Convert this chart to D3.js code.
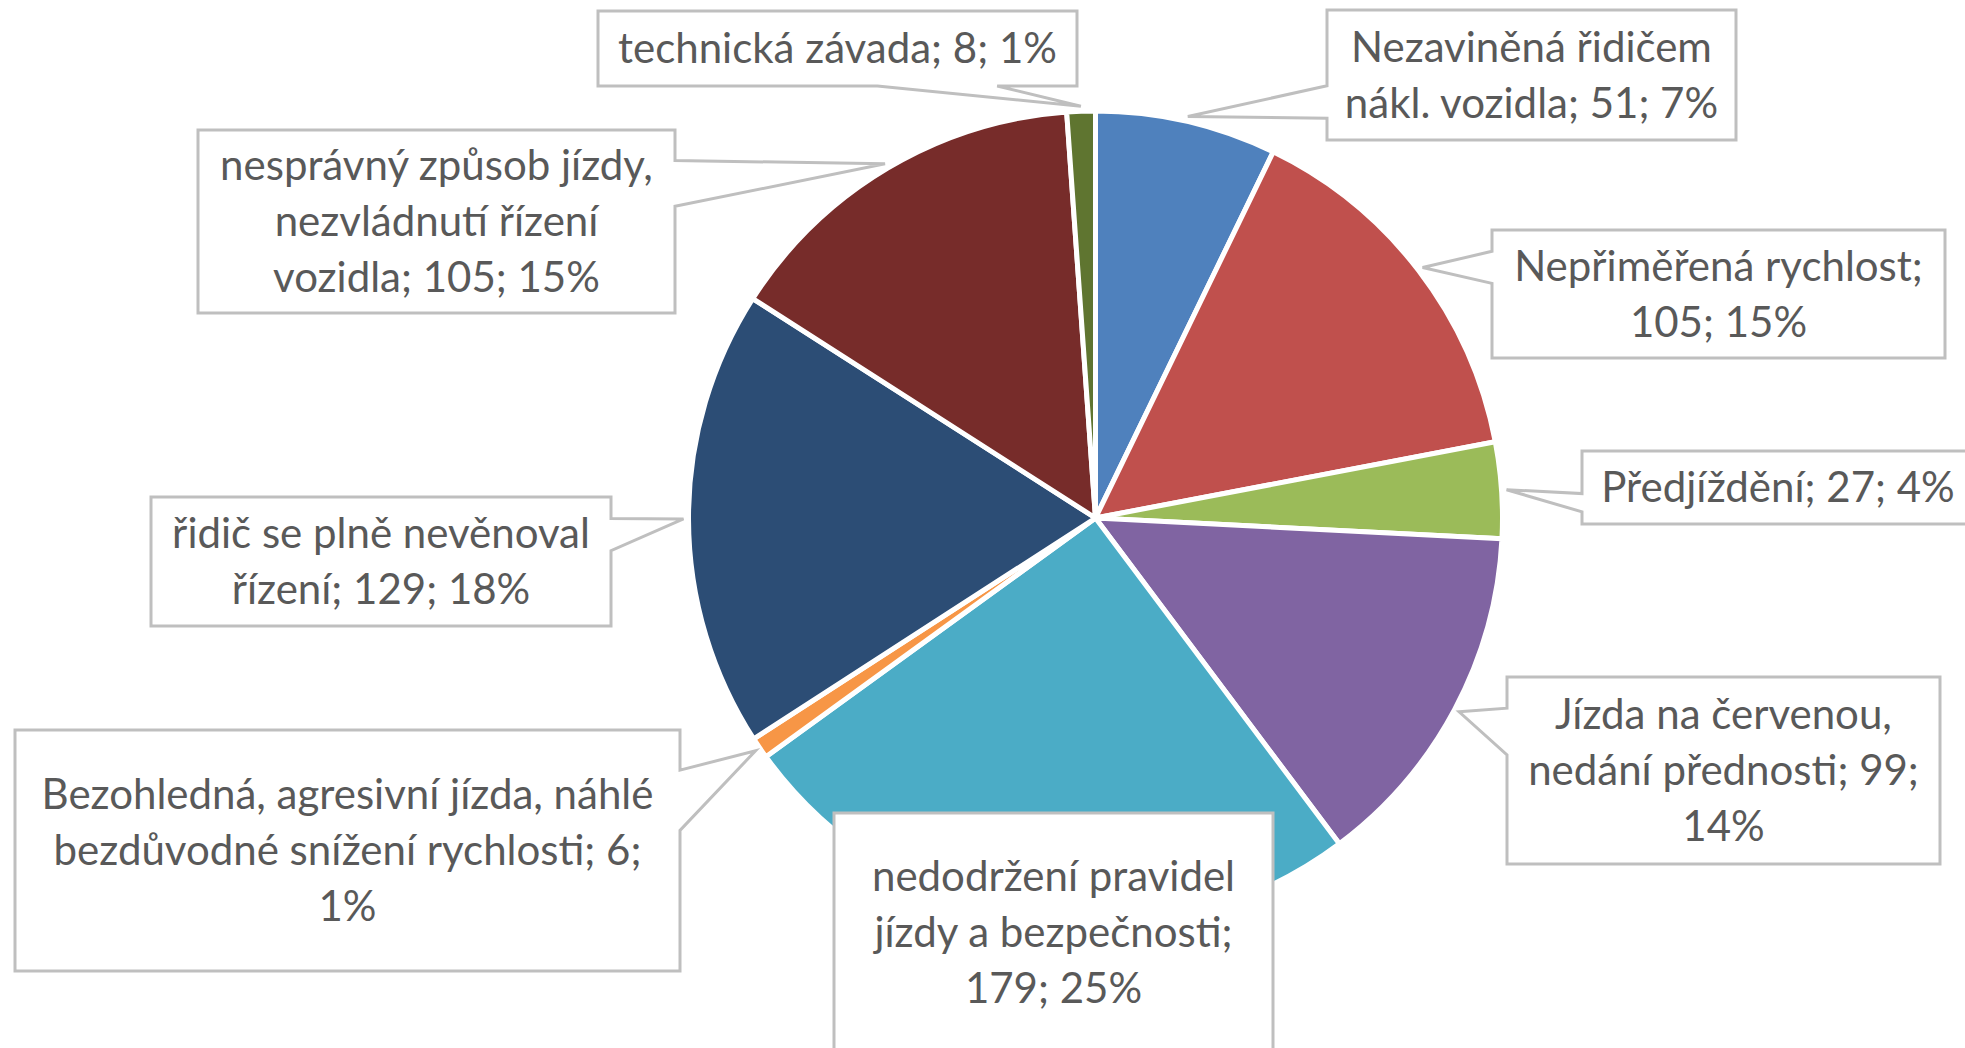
<!DOCTYPE html>
<html>
<head>
<meta charset="utf-8">
<script src="https://cdn.jsdelivr.net/npm/d3@7"></script>
<style>
  html, body { margin: 0; padding: 0; background: #ffffff; }
  svg { display: block; }
</style>
</head>
<body>
<svg id="chart" width="1965" height="1048"></svg>
<script>
// ---- data ----
const categories = [
  "Nezaviněná řidičem nákl. vozidla",
  "Nepřiměřená rychlost",
  "Předjíždění",
  "Jízda na červenou, nedání přednosti",
  "nedodržení pravidel jízdy a bezpečnosti",
  "Bezohledná, agresivní jízda, náhlé bezdůvodné snížení rychlosti",
  "řidič se plně nevěnoval řízení",
  "nesprávný způsob jízdy, nezvládnutí řízení vozidla",
  "technická závada"
];
const values = [51, 105, 27, 99, 179, 6, 129, 105, 8];
const percents = ["7%", "15%", "4%", "14%", "25%", "1%", "18%", "15%", "1%"];
const labelLines = [
  ["Nezaviněná řidičem", "nákl. vozidla; 51; 7%"],
  ["Nepřiměřená rychlost;", "105; 15%"],
  ["Předjíždění; 27; 4%"],
  ["Jízda na červenou,", "nedání přednosti; 99;", "14%"],
  ["nedodržení pravidel", "jízdy a bezpečnosti;", "179; 25%"],
  ["Bezohledná, agresivní jízda, náhlé", "bezdůvodné snížení rychlosti; 6;", "1%"],
  ["řidič se plně nevěnoval", "řízení; 129; 18%"],
  ["nesprávný způsob jízdy,", "nezvládnutí řízení", "vozidla; 105; 15%"],
  ["technická závada; 8; 1%"]
];

// ---- styles / layout (kept separate from data) ----
const colors = ["#4F81BD", "#C0504D", "#9BBB59", "#8064A2", "#4BACC6",
                "#F79646", "#2C4D75", "#772C2A", "#5F7530"];
const cx = 1095.5, cy = 518, R = 407;
// label boxes [x0, y0, x1, y1]
const boxes = [
  [1327, 10, 1736, 140],
  [1492, 230, 1945, 358],
  [1582, 451, 1974, 524],
  [1507, 677, 1940, 864],
  [834, 813, 1273, 1052],
  [15, 730, 680, 971],
  [151, 497, 611, 626],
  [198, 130, 675, 313],
  [598, 11, 1077, 86]
];
const lineH = 56;
const fontFamily = "Lato, 'Open Sans', 'DejaVu Sans', sans-serif";

const svg = d3.select("#chart");
svg.append("rect").attr("width", 1965).attr("height", 1048).attr("fill", "#ffffff");

const pie = d3.pie().sort(null).value(d => d)(values);
const arc = d3.arc().innerRadius(0).outerRadius(R);

const g = svg.append("g").attr("transform", `translate(${cx},${cy})`);
g.selectAll("path.slice")
  .data(pie)
  .join("path")
  .attr("class", "slice")
  .attr("d", arc)
  .attr("fill", (d, i) => colors[i])
  .attr("stroke", "#ffffff")
  .attr("stroke-width", 5)
  .attr("stroke-linejoin", "round");

// Font size: fit the reference width of the single-line label
const probe = svg.append("text").attr("font-family", fontFamily).attr("font-size", 45)
  .text(labelLines[8][0]);
const wProbe = probe.node().getComputedTextLength();
probe.remove();
const fs = 45 * 439 / wProbe;

// wedgeRectCallout path
function callout(b, px, py) {
  const [l, t, r, bt] = b;
  const w = r - l, h = bt - t;
  const p = d3.path();
  if (px >= l && px <= r && py >= t && py <= bt) {
    p.rect(l, t, w, h);
    return p.toString();
  }
  const hc = l + w / 2, vc = t + h / 2;
  const dxPos = px - hc, dyPos = py - vc;
  const dx = dxPos * h, dy = dyPos * w;
  const x1 = l + w * (dxPos > 0 ? 7 : 2) / 12;
  const x2 = l + w * (dxPos > 0 ? 10 : 5) / 12;
  const y1 = t + h * (dyPos > 0 ? 7 : 2) / 12;
  const y2 = t + h * (dyPos > 0 ? 10 : 5) / 12;
  let side;
  if (Math.abs(dx) > Math.abs(dy)) side = dxPos > 0 ? "right" : "left";
  else side = dyPos > 0 ? "bottom" : "top";
  p.moveTo(l, t);
  if (side === "top") { p.lineTo(x1, t); p.lineTo(px, py); p.lineTo(x2, t); }
  p.lineTo(r, t);
  if (side === "right") { p.lineTo(r, y1); p.lineTo(px, py); p.lineTo(r, y2); }
  p.lineTo(r, bt);
  if (side === "bottom") { p.lineTo(x2, bt); p.lineTo(px, py); p.lineTo(x1, bt); }
  p.lineTo(l, bt);
  if (side === "left") { p.lineTo(l, y2); p.lineTo(px, py); p.lineTo(l, y1); }
  p.closePath();
  return p.toString();
}

const labels = svg.append("g");
pie.forEach((d, i) => {
  const a = (d.startAngle + d.endAngle) / 2;
  const px = cx + (R + 5) * Math.sin(a);
  const py = cy - (R + 5) * Math.cos(a);
  const b = boxes[i];
  const lg = labels.append("g");
  lg.append("path")
    .attr("d", callout(b, px, py))
    .attr("fill", "#ffffff")
    .attr("stroke", "#BFBFBF")
    .attr("stroke-width", 3)
    .attr("stroke-linejoin", "miter");
  const lines = labelLines[i];
  const mx = (b[0] + b[2]) / 2, my = (b[1] + b[3]) / 2;
  const txt = lg.append("text")
    .attr("font-family", fontFamily)
    .attr("font-size", fs)
    .attr("fill", "#595959")
    .attr("text-anchor", "middle");
  lines.forEach((ln, k) => {
    txt.append("tspan")
      .attr("x", mx)
      .attr("y", my + (k - (lines.length - 1) / 2) * lineH + 0.35 * fs)
      .text(ln);
  });
});
</script>
</body>
</html>
